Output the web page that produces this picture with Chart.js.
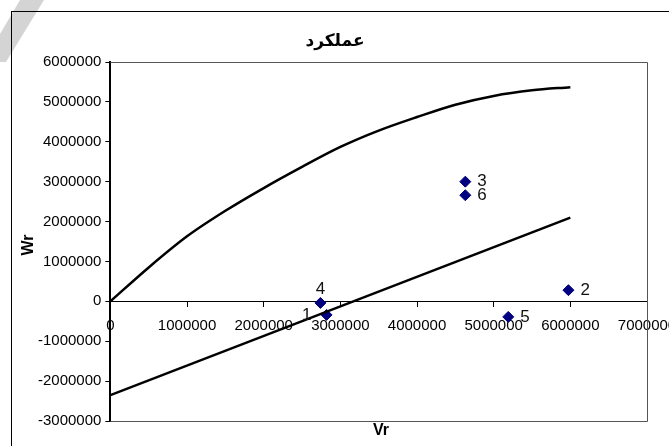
<!DOCTYPE html>
<html>
  <head>
    <meta charset="utf-8">
    <title>عملکرد</title>
  </head>
  <style media="screen">
    html, body { margin: 0; padding: 0; overflow: hidden; background: #fff; }
    #wrap { width: 700px; height: 470px; }
  </style>
  <body>
    <div id="wrap"><canvas id="grap" width="700" height="470"></canvas></div>
    <script src="https://cdn.jsdelivr.net/npm/chart.js@4/dist/chart.umd.min.js"></script>
    <script type="text/javascript">
      // curva
      let curveVr = [0, 500000, 1000000, 1500000, 2000000, 2500000, 3000000, 3500000, 4000000, 4500000, 5000000, 5500000, 6000000];
      let curveWr = [0, 850000, 1630000, 2270000, 2840000, 3370000, 3870000, 4280000, 4620000, 4930000, 5150000, 5290000, 5370000];

      // reta
      let lineVr = [0, 6000000];
      let lineWr = [-2350000, 2100000];

      // pontos
      let ptVr = [2820000, 5975000, 4630000, 2740000, 5190000, 4630000];
      let ptWr = [-340000, 280000, 3000000, -40000, -390000, 2660000];
      let ptNames = ['1', '2', '3', '4', '5', '6'];
      let ptSide = ['left', 'right', 'right', 'top', 'right', 'right'];

      let xTicks = [0, 1000000, 2000000, 3000000, 4000000, 5000000, 6000000, 7000000];
      let yTicks = [-3000000, -2000000, -1000000, 0, 1000000, 2000000, 3000000, 4000000, 5000000, 6000000];

      let titulo = 'عملکرد';
      let tituloX = 'Vr';
      let tituloY = 'Wr';

      const toXY = (xs, ys) => xs.map((x, i) => ({x: x, y: ys[i]}));

      let extras = {
        id: 'extras',
        beforeDraw(chart) {
          let c = chart.ctx;
          c.save();
          // mancha cinza no canto
          c.fillStyle = '#d4d4d4';
          c.beginPath();
          c.moveTo(20, 0); c.lineTo(44, 0); c.lineTo(6, 62); c.lineTo(0, 62); c.lineTo(0, 34);
          c.closePath();
          c.fill();
          // moldura
          c.strokeStyle = '#000';
          c.lineWidth = 1;
          c.strokeRect(11.5, 11.5, 700, 500);
          c.restore();
        },
        afterDatasetsDraw(chart) {
          let c = chart.ctx;
          let a = chart.chartArea;
          let xs = chart.scales.x, ys = chart.scales.y;
          c.save();
          // caixa da area
          c.strokeStyle = '#555';
          c.lineWidth = 1;
          c.beginPath();
          c.moveTo(a.left, Math.round(a.top) + 0.5);
          c.lineTo(Math.round(a.right) + 0.5, Math.round(a.top) + 0.5);
          c.lineTo(Math.round(a.right) + 0.5, Math.round(a.bottom) + 0.5);
          c.lineTo(a.left, Math.round(a.bottom) + 0.5);
          c.stroke();
          // rotulos dos pontos
          c.fillStyle = '#111';
          c.font = '17px "Liberation Sans", Arial, sans-serif';
          c.textBaseline = 'middle';
          ptNames.forEach((n, i) => {
            let px = xs.getPixelForValue(ptVr[i]);
            let py = ys.getPixelForValue(ptWr[i]);
            if (ptSide[i] == 'left') { c.textAlign = 'right'; c.fillText(n, px - 15, py); }
            else if (ptSide[i] == 'top') { c.textAlign = 'center'; c.fillText(n, px, py - 14); }
            else { c.textAlign = 'left'; c.fillText(n, px + 12, py); }
          });
          // titulos
          c.fillStyle = '#000';
          c.textAlign = 'center';
          c.font = 'bold 17px "DejaVu Sans", sans-serif';
          c.fillText(titulo, 335, 42);
          c.font = 'bold 16px "Liberation Sans", Arial, sans-serif';
          c.fillText(tituloX, 381, 431);
          c.translate(29, 245);
          c.rotate(-Math.PI / 2);
          c.fillText(tituloY, 0, 0);
          c.restore();
        }
      };

      let fonte = {family: '"Liberation Sans", Arial, sans-serif', size: 15};

      var grafico = new Chart(document.querySelector('#grap'), {
        type: 'scatter',
        data: {
          datasets: [{
            type: 'line',
            data: toXY(curveVr, curveWr),
            borderColor: '#000',
            borderWidth: 2.5,
            pointRadius: 0,
            cubicInterpolationMode: 'monotone',
            fill: false
          }, {
            type: 'line',
            data: toXY(lineVr, lineWr),
            borderColor: '#000',
            borderWidth: 2.5,
            pointRadius: 0,
            fill: false
          }, {
            data: toXY(ptVr, ptWr),
            pointStyle: 'rectRot',
            pointRadius: 5.5,
            backgroundColor: '#000080',
            borderColor: '#000080',
            showLine: false
          }]
        },
        options: {
          responsive: false,
          animation: false,
          layout: { padding: { left: 34, top: 62, right: 53, bottom: 49 } },
          plugins: { legend: { display: false }, tooltip: { enabled: false } },
          scales: {
            x: {
              type: 'linear',
              position: { y: 0 },
              min: 0, max: 7000000,
              afterBuildTicks: s => { s.ticks = xTicks.map(v => ({value: v})); },
              grid: { drawOnChartArea: false, tickLength: 5, color: '#000' },
              border: { color: '#000', width: 1 },
              ticks: { color: '#000', font: fonte, padding: 11, maxRotation: 0, autoSkip: false, callback: v => String(v) }
            },
            y: {
              type: 'linear',
              min: -3000000, max: 6000000,
              afterBuildTicks: s => { s.ticks = yTicks.map(v => ({value: v})); },
              grid: { drawOnChartArea: false, tickLength: 5, color: '#000' },
              border: { color: '#000', width: 2 },
              ticks: { color: '#000', font: fonte, padding: 4, autoSkip: false, callback: v => String(v) }
            }
          }
        },
        plugins: [extras]
      });
    </script>
  </body>
</html>
